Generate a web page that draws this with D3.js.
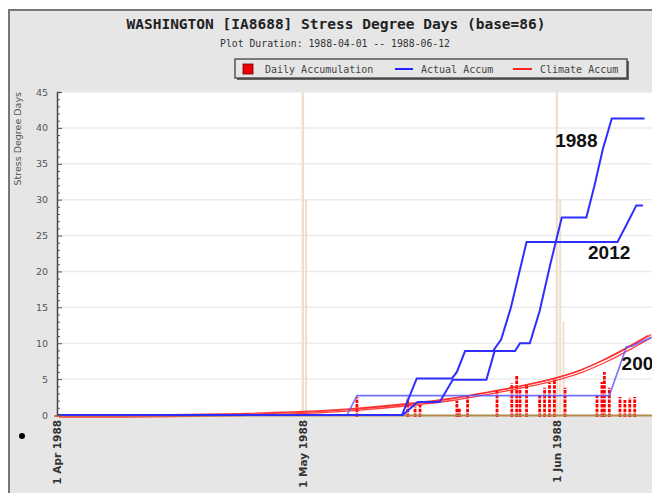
<!DOCTYPE html>
<html>
<head>
<meta charset="utf-8">
<script src="https://cdn.jsdelivr.net/npm/d3@7"></script>
<style>
  body { margin: 0; background: #fff; }
  svg { display: block; }
</style>
</head>
<body>
<script>
var width = 652, height = 493;

// days counted from 1988-04-01
var monthTicks = [0, 30, 61];
var monthLabels = ["1 Apr 1988", "1 May 1988", "1 Jun 1988"];
var yTicks = [0, 5, 10, 15, 20, 25, 30, 35, 40, 45];

// daily accumulation bars (overlaid years)
var dailyDays   = [36.6, 42.8, 43.7, 44.3, 48.8, 49.1, 50.1, 53.7, 55.5, 56.1, 56.5, 57.3,
                   58.9, 59.5, 60.1, 60.7, 62.0, 65.9, 66.5, 66.8, 67.4, 68.7, 69.3, 69.9, 70.5];
var dailyValues = [2.5, 2.4, 1.2, 1.4, 2.0, 1.0, 2.6, 3.6, 4.4, 5.6, 3.8, 4.2,
                   2.8, 3.8, 4.5, 5.1, 3.8, 2.8, 4.6, 6.0, 3.8, 2.5, 2.1, 2.4, 2.5];

// actual accumulation
var days1988 = [0, 42.2, 44.0, 46.7, 48.3, 52.4, 53.4, 55.9, 56.5, 57.7, 58.9, 60.2, 61.6, 64.6, 65.6, 66.6, 67.7, 71.7];
var vals1988 = [0, 0, 1.8, 1.8, 4.9, 4.9, 8.9, 8.9, 10, 10, 14.5, 21, 27.5, 27.5, 32, 37, 41.3, 41.3];

var days2012 = [0, 42.1, 43.9, 48.2, 48.8, 49.8, 53.2, 54.2, 55.4, 57.3, 68.4, 69.5, 70.7, 71.5];
var vals2012 = [0, 0, 5.1, 5.1, 6, 8.9, 8.9, 10.5, 15, 24.1, 24.1, 26.5, 29.2, 29.2];

var days200x = [35.4, 36.6, 67.4, 69.5, 70.2, 72.5];
var vals200x = [0, 2.7, 2.7, 9.5, 9.6, 10.8];

// climate accumulation
var climDays = [0, 8, 20, 30, 36, 42, 48, 54, 58, 61, 64, 67, 70, 72.5];
var climVals = [0, 0, 0.15, 0.5, 0.9, 1.5, 2.3, 3.5, 4.4, 5.2, 6.3, 7.8, 9.6, 11.2];

// marker spikes from the overlaid plots
var spikeDays = [30.4, 61.4, 61.8];
var spikeVals = [30, 30, 13];

var x = d3.scaleLinear().domain([0, 72]).range([57, 647]);
var y = d3.scaleLinear().domain([0, 45]).range([415, 92]);

var svg = d3.select("body").append("svg")
    .attr("width", width)
    .attr("height", height);

// outer frame
svg.append("rect")
    .attr("x", 9).attr("y", 10)
    .attr("width", width).attr("height", height)
    .style("fill", "#e6e6e6")
    .style("stroke", "#777")
    .style("stroke-width", 2);

svg.append("text")
    .attr("x", 336).attr("y", 29)
    .attr("text-anchor", "middle")
    .style("font-family", "DejaVu Sans Mono")
    .style("font-weight", "bold")
    .style("font-size", "14.5px")
    .style("fill", "#222")
    .text("WASHINGTON [IA8688] Stress Degree Days (base=86)");

svg.append("text")
    .attr("x", 335).attr("y", 47)
    .attr("text-anchor", "middle")
    .style("font-family", "DejaVu Sans Mono")
    .style("font-size", "9.8px")
    .style("fill", "#333")
    .text("Plot Duration: 1988-04-01 -- 1988-06-12");

// legend
var lg = svg.append("g");
lg.append("rect")
    .attr("x", 237).attr("y", 61).attr("width", 392).attr("height", 19)
    .style("fill", "#666");
lg.append("rect")
    .attr("x", 235).attr("y", 59).attr("width", 392).attr("height", 19)
    .style("fill", "#e6e6e6").style("stroke", "#333").style("stroke-width", 1.2);
lg.append("rect")
    .attr("x", 243).attr("y", 64).attr("width", 10).attr("height", 10)
    .style("fill", "#ee0000").style("stroke", "#600").style("stroke-width", 0.8);
lg.append("line")
    .attr("x1", 395).attr("x2", 413).attr("y1", 69).attr("y2", 69)
    .style("stroke", "#2222ff").style("stroke-width", 2);
lg.append("line")
    .attr("x1", 513).attr("x2", 532).attr("y1", 69).attr("y2", 69)
    .style("stroke", "#ff2222").style("stroke-width", 2);
lg.selectAll("text.lg")
    .data([["Daily Accumulation", 265], ["Actual Accum", 421], ["Climate Accum", 540]])
    .enter().append("text")
    .attr("x", function(d){ return d[1]; })
    .attr("y", 72.5)
    .style("font-family", "DejaVu Sans Mono")
    .style("font-size", "10px")
    .style("fill", "#444")
    .text(function(d){ return d[0]; });

// plot area
svg.append("rect")
    .attr("x", x(0)).attr("y", y(45))
    .attr("width", width - x(0)).attr("height", y(0) - y(45))
    .style("fill", "#fff");

svg.selectAll("line.grid")
    .data(yTicks.slice(1))
    .enter().append("line")
    .attr("x1", x(0)).attr("x2", width)
    .attr("y1", function(d){ return y(d); })
    .attr("y2", function(d){ return y(d); })
    .style("stroke", "#ebebeb")
    .style("stroke-width", 1.5);

// month lines
svg.selectAll("line.month")
    .data(monthTicks.slice(1))
    .enter().append("line")
    .attr("x1", function(d){ return x(d); })
    .attr("x2", function(d){ return x(d); })
    .attr("y1", y(45)).attr("y2", y(0))
    .style("stroke", "#eee0cc")
    .style("stroke-width", 2.5);

svg.selectAll("line.spike")
    .data(spikeDays)
    .enter().append("line")
    .attr("x1", function(d){ return x(d); })
    .attr("x2", function(d){ return x(d); })
    .attr("y1", function(d, i){ return y(spikeVals[i]); })
    .attr("y2", y(0))
    .style("stroke", "#eee0cc")
    .style("stroke-width", 2);

// daily bars
svg.selectAll("line.bar")
    .data(dailyDays)
    .enter().append("line")
    .attr("x1", function(d){ return x(d); })
    .attr("x2", function(d){ return x(d); })
    .attr("y1", y(0) + 2)
    .attr("y2", function(d, i){ return y(dailyValues[i]); })
    .style("stroke", "#ff0000")
    .style("stroke-width", 2.8)
    .style("stroke-dasharray", "3.5,1.2");

// climate lines (three overlaid copies)
var climLine = d3.line()
    .x(function(d){ return x(d); })
    .y(function(d, i){ return y(climVals[i]); })
    .curve(d3.curveMonotoneX);

[[0, 0], [2, 2], [-3, 1]].forEach(function(off){
    svg.append("path")
        .attr("d", climLine(climDays))
        .attr("transform", "translate(" + off[0] + "," + off[1] + ")")
        .style("fill", "none")
        .style("stroke", "#ff2020")
        .style("stroke-width", 1.3)
        .style("opacity", 0.85);
});

// bottom axis line
svg.append("line")
    .attr("x1", x(0)).attr("x2", width)
    .attr("y1", y(0) + 0.5).attr("y2", y(0) + 0.5)
    .style("stroke", "#b08a4a")
    .style("stroke-width", 2);

// actual lines
function actualLine(days, vals) {
    return d3.line()
        .x(function(d){ return x(d); })
        .y(function(d, i){ return y(vals[i]); })(days);
}

svg.append("path")
    .attr("d", actualLine(days200x, vals200x))
    .style("fill", "none").style("stroke", "#5a5aff").style("stroke-width", 1.6).style("opacity", 0.85);

svg.append("path")
    .attr("d", actualLine(days2012, vals2012))
    .style("fill", "none").style("stroke", "#2e2eff").style("stroke-width", 2);

svg.append("path")
    .attr("d", actualLine(days1988, vals1988))
    .style("fill", "none").style("stroke", "#2e2eff").style("stroke-width", 2);

// year labels
svg.selectAll("text.year")
    .data([["1988", 60.8, 37.3], ["2012", 64.8, 21.7], ["200", 68.9, 6.3]])
    .enter().append("text")
    .attr("x", function(d){ return x(d[1]); })
    .attr("y", function(d){ return y(d[2]); })
    .style("font-family", "Liberation Sans, Arial, sans-serif")
    .style("font-weight", "bold")
    .style("font-size", "19px")
    .style("fill", "#111")
    .text(function(d){ return d[0]; });

// y axis
var yAxis = d3.axisRight(y)
    .tickValues(d3.range(0, 46))
    .tickSize(3)
    .tickFormat("");

var ya = svg.append("g")
    .attr("transform", "translate(" + x(0) + ",0)")
    .call(yAxis);
ya.select(".domain").style("stroke", "#444").style("stroke-width", 1.5);
ya.selectAll(".tick line")
    .style("stroke", "#555")
    .attr("x2", function(d){ return d % 5 === 0 ? 5 : 3; });

svg.selectAll("text.ytick")
    .data(yTicks)
    .enter().append("text")
    .attr("x", 48)
    .attr("y", function(d){ return y(d) + 3.5; })
    .attr("text-anchor", "end")
    .style("font-family", "DejaVu Sans")
    .style("font-size", "9.5px")
    .style("fill", "#555")
    .text(function(d){ return d; });

svg.append("text")
    .attr("transform", "translate(21,92) rotate(-90)")
    .attr("text-anchor", "end")
    .style("font-family", "DejaVu Sans")
    .style("font-size", "9.5px")
    .style("fill", "#555")
    .text("Stress Degree Days");

// x tick labels
svg.selectAll("text.xtick")
    .data(monthTicks)
    .enter().append("text")
    .attr("transform", function(d){ return "translate(" + (x(d) + 4) + ",420) rotate(-90)"; })
    .attr("text-anchor", "end")
    .style("font-family", "DejaVu Sans")
    .style("font-weight", "bold")
    .style("font-size", "10.5px")
    .style("fill", "#333")
    .text(function(d, i){ return monthLabels[i]; });

svg.append("circle")
    .attr("cx", 22).attr("cy", 436).attr("r", 3)
    .style("fill", "#000");
</script>
</body>
</html>
